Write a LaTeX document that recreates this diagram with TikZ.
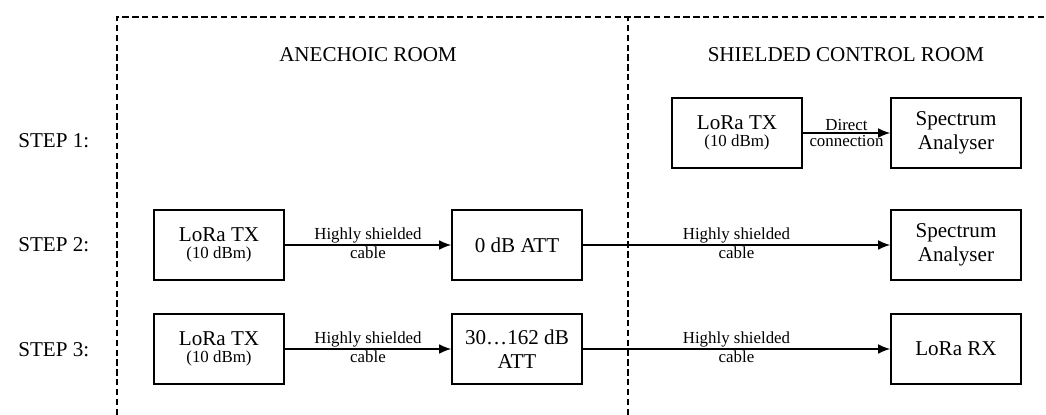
\documentclass[tikz,border=0pt]{standalone}
\usepackage{fontspec}
\setmainfont{Liberation Serif}
\usetikzlibrary{arrows.meta}

\newcommand{\smalltxt}[1]{{\fontsize{12}{13}\selectfont #1}}

\begin{document}
\begin{tikzpicture}[line width=1pt,>={Latex[length=3mm,width=2.4mm]},
  unitbox/.style={draw,line width=1.1pt,minimum width=3.25cm,minimum height=1.75cm,
    align=center,font=\fontsize{15}{17}\selectfont},
  roomtitle/.style={font=\fontsize{15}{17}\selectfont},
  steptitle/.style={anchor=west,font=\fontsize{15}{17}\selectfont},
  cablelbl/.style={font=\fontsize{12}{13}\selectfont,inner sep=1pt},
  wall/.style={line width=1.5pt,dash pattern=on 4.5pt off 2.5pt}]
  \useasboundingbox (0,0) rectangle (26.15,10.375);
  % ===================== ROOMS (dashed walls) =====================
  \draw[wall] (2.925,0)--(2.925,9.95)--(26.15,9.95);
  \draw[wall] (15.7,0)--(15.7,9.95);
  \node[roomtitle] (anechoic) at (9.2,9.0){ANECHOIC ROOM};
  \node[roomtitle] (control) at (21.15,9.0){SHIELDED CONTROL ROOM};
  % ===================== STEP LABELS =====================
  \node[steptitle] (step1) at (0.325,6.85){STEP 1:};
  \node[steptitle] (step2) at (0.325,4.26){STEP 2:};
  \node[steptitle] (step3) at (0.325,1.625){STEP 3:};
  % ===================== STEP 1 =====================
  \node[unitbox] (tx1) at (18.425,7.05){LoRa TX\\[-5pt]\smalltxt{(10 dBm)}};
  \node[unitbox] (sa1) at (23.9,7.05){Spectrum\\Analyser};
  \draw[->] (tx1)--(sa1) node[cablelbl,above,midway]{Direct} node[cablelbl,below,midway]{connection};
  % ===================== STEP 2 =====================
  \node[unitbox] (tx2) at (5.475,4.25){LoRa TX\\[-5pt]\smalltxt{(10 dBm)}};
  \node[unitbox] (att2) at (12.925,4.25){0 dB ATT};
  \node[unitbox] (sa2) at (23.9,4.25){Spectrum\\Analyser};
  % ---------- cables ----------
  \draw[->] (tx2)--(att2) node[cablelbl,above,midway]{Highly shielded} node[cablelbl,below,midway]{cable};
  \draw[->] (att2)--(sa2) node[cablelbl,above,midway]{Highly shielded} node[cablelbl,below,midway]{cable};
  % ===================== STEP 3 =====================
  \node[unitbox] (tx3) at (5.475,1.65){LoRa TX\\[-5pt]\smalltxt{(10 dBm)}};
  \node[unitbox] (att3) at (12.925,1.65){30…162 dB\\ATT};
  \node[unitbox] (rx3) at (23.9,1.65){LoRa RX};
  % ---------- cables ----------
  \draw[->] (tx3)--(att3) node[cablelbl,above,midway]{Highly shielded} node[cablelbl,below,midway]{cable};
  \draw[->] (att3)--(rx3) node[cablelbl,above,midway]{Highly shielded} node[cablelbl,below,midway]{cable};
\end{tikzpicture}
\end{document}
